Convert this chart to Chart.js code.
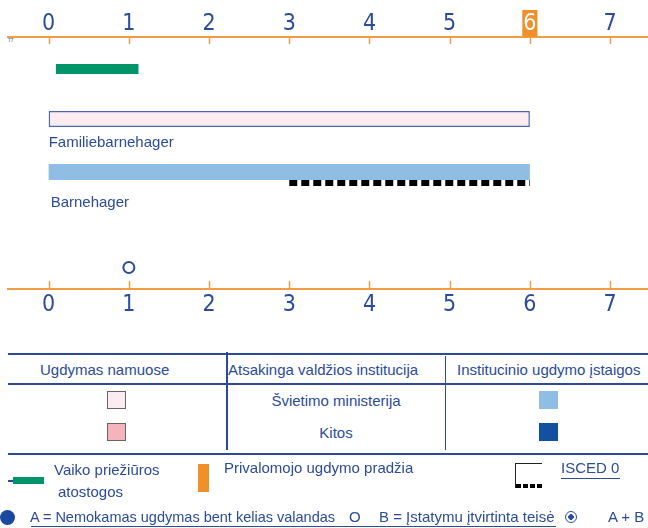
<!DOCTYPE html>
<html>
<head>
<meta charset="utf-8">
<script src="https://cdn.jsdelivr.net/npm/chart.js@4.4.0/dist/chart.umd.min.js"></script>
<style>
  body { margin: 0; background: #fff; }
  #page { position: relative; width: 648px; height: 528px; overflow: hidden;
          font-family: 'Liberation Sans', Arial, sans-serif; font-size: 15px; color: #2b4b9b; }
  #page canvas { position: absolute; left: 0; top: 0; }
  .t { position: absolute; line-height: 18px; height: 18px; white-space: nowrap; }
  .hl { position: absolute; left: 8px; width: 640px; height: 2px; background: #2c4a98; }
  .vl { position: absolute; width: 1.5px; background: #2c4a98; }
  .sw { position: absolute; width: 19px; height: 18px; box-sizing: border-box; }
</style>
</head>
<body>
<div id="page">
  <canvas id="chart" width="648" height="320"></canvas>
  <span class="t" style="left:8px;top:38px;font-size:5px;line-height:5px;height:5px">77</span>

  <!-- lentelė -->
  <div class="hl" style="top:353px"></div>
  <div class="hl" style="top:383px"></div>
  <div class="hl" style="top:453px"></div>
  <div class="vl" style="left:226px;top:352px;height:98px"></div>
  <div class="vl" style="left:444.5px;top:356px;height:94px"></div>
  <span class="t" style="left:40px;top:361px">Ugdymas namuose</span>
  <span class="t" style="left:228px;top:361px">Atsakinga valdžios institucija</span>
  <span class="t" style="left:457px;top:361px">Institucinio ugdymo įstaigos</span>
  <div class="t" style="left:227px;width:218px;text-align:center;top:392px">Švietimo ministerija</div>
  <div class="t" style="left:227px;width:218px;text-align:center;top:424px">Kitos</div>
  <div class="sw" style="left:107px;top:391px;background:#fcecf2;border:1px solid #666"></div>
  <div class="sw" style="left:107px;top:422.5px;background:#f5b4bc;border:1px solid #666"></div>
  <div class="sw" style="left:539px;top:391px;background:#8fbde3"></div>
  <div class="sw" style="left:539px;top:423px;background:#1450a0"></div>

  <!-- legenda -->
  <div style="position:absolute;left:8px;top:480px;width:6px;height:1.5px;background:#2c4a98"></div>
  <div style="position:absolute;left:13px;top:477px;width:31px;height:7px;background:#00946a"></div>
  <span class="t" style="left:54px;top:461px">Vaiko priežiūros</span>
  <span class="t" style="left:58px;top:483px">atostogos</span>
  <div style="position:absolute;left:198px;top:464px;width:11px;height:28px;background:#f0902a"></div>
  <span class="t" style="left:224px;top:459px">Privalomojo ugdymo pradžia</span>
  <div style="position:absolute;left:515px;top:463px;width:27px;height:25px;box-sizing:border-box;border-top:1.5px solid #222;border-left:1.5px solid #222">
    <div style="position:absolute;left:0;bottom:0;width:26px;height:4px;background:repeating-linear-gradient(90deg,#000 0 5px,transparent 5px 7px)"></div>
  </div>
  <span class="t" style="left:561px;top:459px">ISCED 0</span>
  <div style="position:absolute;left:561px;top:477.5px;width:59px;height:1.5px;background:#2b4b9b"></div>

  <div style="position:absolute;left:0;top:510px;width:15px;height:15px;border-radius:50%;background:#1c47a0"></div>
  <span class="t" style="left:30px;top:508px;font-size:14.5px">A = Nemokamas ugdymas bent kelias valandas</span>
  <span class="t" style="left:349px;top:508px">O</span>
  <span class="t" style="left:379px;top:508px">B = Įstatymu įtvirtinta teisė</span>
  <div style="position:absolute;left:31px;top:525.5px;width:525px;height:1.5px;background:#2b4b9b"></div>
  <div style="position:absolute;left:565px;top:511px;width:12px;height:12px;box-sizing:border-box;border:1.5px solid #2b4b9b;border-radius:50%;background:radial-gradient(circle,#2b4b9b 0 2.6px,#fff 3px)"></div>
  <span class="t" style="left:608px;top:508px">A + B</span>
</div>

<script>
// duomenys
const ageTicks = [0, 1, 2, 3, 4, 5, 6, 7];
const compulsoryAge = 6;
const leaveAges = [0.09, 1.12];
const programmes = ['Familiebarnehager', 'Barnehager'];
const programmeStart = [0, 0];
const programmeEnd = [6, 6];
const iscedAges = [3, 6];
const entitlementAges = [1];

// išdėstymas: eilučių padėtis (px nuo viršutinės ašies)
const rowY = { leave: 32, programmes: [82, 135], isced: 145.7, marks: 230.5 };
const nameDx = [0, 2];
const nameDy = [27.7, 34.7];

const blue = '#2b4b9b';
const orange = '#f29c45';
const digitFont = "'Liberation Sans Narrow', 'DejaVu Sans Condensed', sans-serif";

// ašių brūkšneliai ir programų pavadinimai
const annotate = {
  id: 'annotate',
  afterDraw(chart) {
    const ctx = chart.ctx;
    const { x, x2, y } = chart.scales;
    ctx.save();
    ctx.strokeStyle = orange;
    ctx.lineWidth = 1.5;
    x.ticks.forEach(t => {
      const px = Math.round(x.getPixelForValue(t.value)) + 0.5;
      ctx.beginPath(); ctx.moveTo(px, x.bottom); ctx.lineTo(px, x.bottom + 7); ctx.stroke();
    });
    x2.ticks.forEach(t => {
      const px = Math.round(x2.getPixelForValue(t.value)) + 0.5;
      ctx.beginPath(); ctx.moveTo(px, x2.top); ctx.lineTo(px, x2.top - 8); ctx.stroke();
    });
    ctx.fillStyle = blue;
    ctx.font = "15px 'Liberation Sans', Arial, sans-serif";
    ctx.textBaseline = 'alphabetic';
    ctx.textAlign = 'left';
    programmes.forEach((name, i) => {
      ctx.fillText(name, x.getPixelForValue(programmeStart[i]) + nameDx[i], y.getPixelForValue(rowY.programmes[i]) + nameDy[i]);
    });
    ctx.restore();
  }
};

const datasets = [
  {
    type: 'bar', indexAxis: 'y', grouped: false, xAxisID: 'x', yAxisID: 'y',
    data: [{ x: leaveAges, y: rowY.leave }],
    backgroundColor: '#00946a', maxBarThickness: 10, borderSkipped: false
  },
  {
    type: 'bar', indexAxis: 'y', grouped: false, xAxisID: 'x', yAxisID: 'y',
    data: [{ x: [programmeStart[0], programmeEnd[0]], y: rowY.programmes[0] }],
    backgroundColor: '#fcecf2', borderColor: '#4a66b5', borderWidth: 1.5,
    borderSkipped: false, maxBarThickness: 16
  },
  {
    type: 'bar', indexAxis: 'y', grouped: false, xAxisID: 'x', yAxisID: 'y',
    data: [{ x: [programmeStart[1], programmeEnd[1]], y: rowY.programmes[1] }],
    backgroundColor: '#8fbde3', borderSkipped: false, maxBarThickness: 16
  },
  {
    type: 'line', xAxisID: 'x', yAxisID: 'y',
    data: iscedAges.map(a => ({ x: a, y: rowY.isced })),
    borderColor: '#000', borderWidth: 6.5, borderDash: [8, 4], borderCapStyle: 'butt',
    pointRadius: 0, fill: false
  },
  {
    type: 'scatter', xAxisID: 'x', yAxisID: 'y',
    data: entitlementAges.map(a => ({ x: a, y: rowY.marks })),
    pointRadius: 5.5, borderWidth: 2, borderColor: blue, backgroundColor: '#fff'
  }
];

const ageScale = (position, height, padding) => ({
  type: 'linear', axis: 'x', position: position,
  min: -0.507, max: 7.473, offset: false,
  afterBuildTicks: s => { s.ticks = ageTicks.map(v => ({ value: v })); },
  afterFit: s => { s.height = height; },
  grid: { display: false, drawTicks: false },
  border: { display: true, color: orange, width: 2 },
  ticks: {
    padding: padding,
    font: { family: digitFont, size: 23, lineHeight: '20px' },
    color: c => (position === 'top' && c.tick && c.tick.value === compulsoryAge) ? '#fff' : blue,
    showLabelBackdrop: position === 'top',
    backdropColor: c => (c.tick && c.tick.value === compulsoryAge) ? '#f0902a' : 'rgba(0,0,0,0)',
    backdropPadding: { top: 4, bottom: 3, left: 1, right: 1 }
  }
});

new Chart(document.getElementById('chart'), {
  type: 'bar',
  data: { datasets: datasets },
  options: {
    responsive: false,
    animation: false,
    devicePixelRatio: 1,
    layout: { autoPadding: false, padding: { left: 8, right: 0, top: 0, bottom: 0 } },
    plugins: { legend: { display: false }, tooltip: { enabled: false } },
    scales: {
      x: ageScale('top', 37, 3),
      x2: ageScale('bottom', 31, 6),
      y: { type: 'linear', display: false, min: 0, max: 252, reverse: true, offset: false }
    }
  },
  plugins: [annotate]
});
</script>
</body>
</html>
